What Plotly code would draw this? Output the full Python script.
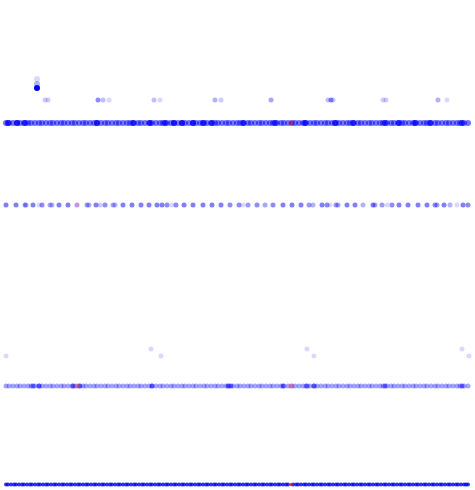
import plotly.graph_objects as go

# Row levels (vertical position of each strip, reversed axis)
row_levels = {"A": 123, "C": 205, "D": 386, "E": 484.5}

# Dense strip positions (x) for rows A, D, E
dense_x = [6, 9, 13, 17, 20, 24, 28, 31, 35, 39, 42, 46, 50, 53, 57, 61, 64, 68, 72, 75,
           79, 83, 86, 90, 94, 97, 101, 105, 108, 112, 116, 119, 123, 127, 130, 134, 138,
           141, 145, 149, 152, 156, 160, 163, 167, 171, 174, 178, 182, 185, 189, 193, 196,
           200, 204, 207, 211, 215, 218, 222, 226, 229, 233, 237, 240, 244, 248, 251, 255,
           259, 262, 266, 270, 273, 277, 281, 284, 288, 292, 295, 299, 303, 306, 310, 314,
           317, 321, 325, 328, 332, 336, 339, 343, 347, 350, 354, 358, 361, 365, 369, 372,
           376, 380, 383, 387, 391, 394, 398, 402, 405, 409, 413, 416, 420, 424, 427, 431,
           435, 438, 442, 446, 449, 453, 457, 460, 464, 468]

# Bottom strip (denser)
rowE_x = [6, 8, 11, 14, 16, 19, 22, 24, 27, 30, 32, 35, 38, 40, 43, 46, 48, 51, 54, 56,
          59, 62, 64, 67, 70, 72, 75, 78, 80, 83, 86, 88, 91, 94, 96, 99, 102, 104, 107,
          110, 112, 115, 118, 120, 123, 126, 128, 131, 134, 136, 139, 142, 144, 147, 150,
          152, 155, 158, 160, 163, 166, 168, 171, 174, 176, 179, 182, 184, 187, 190, 192,
          195, 198, 200, 203, 206, 208, 211, 214, 216, 219, 222, 224, 227, 230, 232, 235,
          238, 240, 243, 246, 248, 251, 254, 256, 259, 262, 264, 267, 270, 272, 275, 278,
          280, 283, 286, 288, 293, 296, 298, 301, 304, 306, 309, 312, 314, 317, 320, 322,
          325, 328, 330, 333, 336, 338, 341, 344, 346, 349, 352, 354, 357, 360, 362, 365,
          368, 370, 373, 376, 378, 381, 384, 386, 389, 392, 394, 397, 400, 402, 405, 408,
          410, 413, 416, 418, 421, 424, 426, 429, 432, 434, 437, 440, 442, 445, 448, 450,
          453, 456, 458, 461, 464, 466, 468]

# Darker clusters in row A
rowA_dark_x = [8, 17, 25, 97, 133, 150, 165, 174, 182, 193, 203, 212, 243, 275, 305,
               335, 353, 385, 399, 415, 430, 462]
rowA_red_x = [291]

# Sparse points above row A
rowB_x = [45, 48, 98, 103, 109, 154, 160, 215, 221, 271, 328, 331, 333, 383, 386, 438, 447]
rowB_y = [100] * len(rowB_x)
rowB_alpha = [0.2, 0.2, 0.45, 0.25, 0.15, 0.25, 0.15, 0.3, 0.2, 0.35, 0.25, 0.45, 0.2,
              0.2, 0.2, 0.3, 0.15]
top_x = [37, 37, 37]
top_y = [88, 84, 79]
top_alpha = [1.0, 0.3, 0.15]

# Row C: spaced dots
rowC_x = [6, 16, 25, 26, 33, 39, 42, 50, 52, 59, 68, 87, 89, 96, 100, 105, 113, 115, 123,
          132, 141, 149, 157, 162, 167, 172, 176, 184, 193, 203, 212, 221, 230, 239, 243,
          248, 257, 265, 273, 283, 292, 301, 309, 313, 322, 327, 330, 336, 338, 347, 355,
          363, 373, 375, 382, 387, 392, 399, 408, 418, 427, 435, 437, 444, 450, 457, 463, 468]
rowC_alpha = [0.5, 0.5, 0.4, 0.3, 0.5, 0.15, 0.45, 0.35, 0.3, 0.5, 0.5, 0.4, 0.3, 0.5, 0.2,
              0.45, 0.35, 0.3, 0.5, 0.5, 0.5, 0.5, 0.5, 0.5, 0.45, 0.15, 0.45, 0.5, 0.5, 0.5,
              0.5, 0.5, 0.45, 0.45, 0.15, 0.4, 0.45, 0.35, 0.45, 0.5, 0.5, 0.5, 0.4, 0.3,
              0.5, 0.45, 0.15, 0.4, 0.35, 0.5, 0.5, 0.3, 0.5, 0.35, 0.4, 0.15, 0.45, 0.5,
              0.5, 0.5, 0.5, 0.45, 0.35, 0.5, 0.3, 0.15, 0.5, 0.45]
rowC_red_x = [77]

# Row D extras
rowD_dark_x = [33, 39, 73, 80, 152, 228, 231, 283, 307, 314, 385, 462]
rowD_red_x = [77, 291]
rowD_top_x = [6, 151, 161, 307, 314, 462, 469]
rowD_top_y = [356, 349, 356, 349, 356, 349, 356]

rowE_red_x = [291]

fig = go.Figure()

def add(xs, ys, color, size, opacity=None):
    fig.add_trace(go.Scatter(
        x=xs, y=ys, mode="markers",
        marker=dict(size=size, color=color, opacity=opacity, line=dict(width=0)),
        hoverinfo="skip", showlegend=False))

# Row A
add(dense_x, [row_levels["A"]] * len(dense_x), "rgba(0,0,255,0.55)", 6)
add(rowA_dark_x, [row_levels["A"]] * len(rowA_dark_x), "rgba(0,0,255,0.75)", 6)
add(rowA_red_x, [row_levels["A"]], "rgba(200,0,60,0.5)", 5)
# sparse above
add(rowB_x, rowB_y, [f"rgba(0,0,255,{a})" for a in rowB_alpha], 5)
add(top_x, top_y, [f"rgba(0,0,255,{a})" for a in top_alpha], 6)
# Row C
add(rowC_x, [row_levels["C"]] * len(rowC_x), [f"rgba(0,0,255,{a})" for a in rowC_alpha], 5)
add(rowC_red_x, [row_levels["C"]], "rgba(150,40,200,0.5)", 5)
# Row D
add(dense_x, [row_levels["D"]] * len(dense_x), "rgba(0,0,255,0.35)", 5)
add(rowD_dark_x, [row_levels["D"]] * len(rowD_dark_x), "rgba(0,0,255,0.5)", 5)
add(rowD_red_x, [row_levels["D"]] * len(rowD_red_x), "rgba(230,60,60,0.45)", 5)
add(rowD_top_x, rowD_top_y, "rgba(0,0,255,0.15)", 5)
# Row E
add(rowE_x, [row_levels["E"]] * len(rowE_x), "rgba(0,0,255,0.8)", 4)
add(rowE_red_x, [row_levels["E"]], "rgba(230,0,0,0.8)", 3)

fig.update_layout(
    width=475, height=490,
    margin=dict(l=0, r=0, t=0, b=0),
    paper_bgcolor="white", plot_bgcolor="white",
    xaxis=dict(range=[0, 475], visible=False, showgrid=False, zeroline=False),
    yaxis=dict(range=[490, 0], visible=False, showgrid=False, zeroline=False),
)

fig.write_html("out.html")
